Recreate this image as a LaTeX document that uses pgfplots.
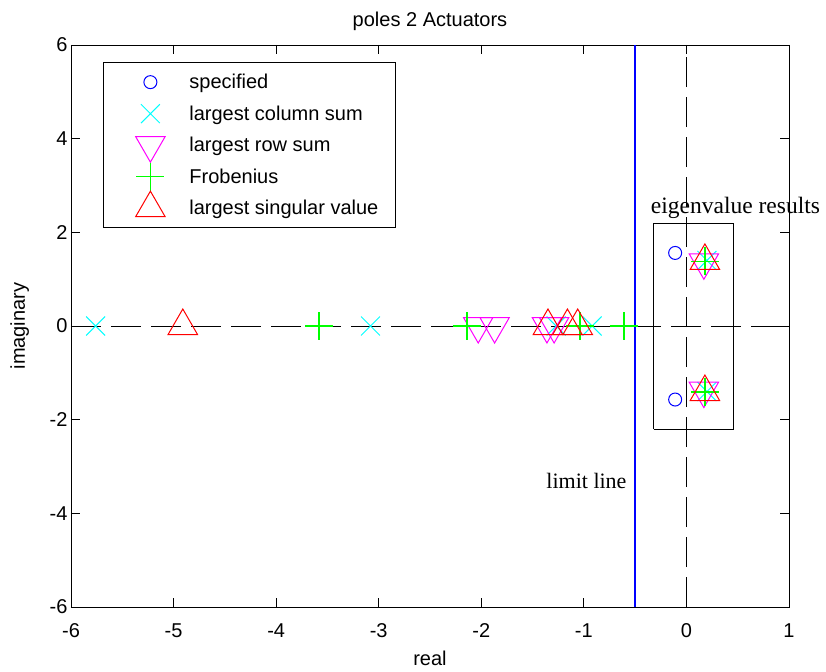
\documentclass[border=0pt]{standalone}
\usepackage{fontspec}
\setmainfont{Liberation Sans}
\newfontfamily\seriffont{Liberation Serif}
\usepackage{pgfplots}
\pgfplotsset{compat=1.18}
\definecolor{mcyan}{rgb}{0,1,1}
\definecolor{mmag}{rgb}{1,0,1}
\definecolor{mgreen}{rgb}{0,1,0}
\definecolor{mred}{rgb}{1,0,0}
\definecolor{mblue}{rgb}{0,0,1}
\newcommand{\ff}{\fontsize{20}{24}\selectfont}
\begin{document}
\begin{tikzpicture}
\begin{axis}[
  width=718pt, height=562pt, scale only axis, clip=false,
  xmin=-6, xmax=1, ymin=-6, ymax=6,
  xtick={-6,-5,...,1}, ytick={-6,-4,...,6},
  /pgf/number format/assume math mode=true,
  tick align=inside, major tick length=9pt,
  every tick/.style={black, line width=0.8pt},
  axis line style={line width=0.8pt},
  tick label style={font=\ff},
  xticklabel style={yshift=-13pt},
  title={poles 2 Actuators},
  title style={font=\ff, at={(axis description cs:0.5,1)}, anchor=base, yshift=12pt},
  xlabel={real},
  xlabel style={font=\ff, at={(axis description cs:0.5,0)}, anchor=base, yshift=-58pt},
  ylabel={imaginary},
  ylabel style={font=\ff, at={(axis description cs:0,0.5)}, anchor=base, yshift=46pt},
  legend style={at={(axis description cs:0,1)}, anchor=north west, xshift=32pt, yshift=-17pt,
    draw=black, line width=0.8pt, inner xsep=17pt, inner ysep=4pt, row sep=0pt, column sep=9pt,
    font=\ff, cells={anchor=west}, nodes={inner sep=0pt}},
  legend image code/.code={\path[draw=none, fill=none] (0pt,-15.75pt) rectangle (60pt,15.75pt);
    \draw[overlay, mark repeat=2, mark phase=2, #1] plot coordinates {(0pt,0pt) (30pt,0pt) (60pt,0pt)};},
]
% reference lines
\addplot[forget plot, draw=black, line width=0.8pt, dash pattern=on 30pt off 10pt] coordinates {(-6,0) (1,0)};
\addplot[forget plot, draw=black, line width=0.8pt, dash pattern=on 30pt off 10pt] coordinates {(0,-6) (0,6)};
\addplot[forget plot, draw=mblue, line width=1.3pt] coordinates {(-0.5,-6) (-0.5,6)};
\addplot[forget plot, draw=black, line width=0.9pt] coordinates {(-0.32,-2.2) (0.46,-2.2) (0.46,2.18) (-0.32,2.18) (-0.32,-2.2)};

\addplot[only marks, mblue, mark=o, mark size=6.5pt, line width=1pt] coordinates {(-0.11,1.56) (-0.11,-1.57)};
\addlegendentry{specified}
\addplot[only marks, mcyan, mark=x, mark size=13.4pt, line width=1pt] coordinates {
  (-5.76,0) (-3.08,0) (-1.27,0) (-0.92,0) (0.2,1.4) (0.2,-1.4)};
\addlegendentry{largest column sum}
\addplot[only marks, mmag, mark=triangle, mark size=17pt, mark options={rotate=180}, line width=1pt] coordinates {
  (-2.03,0) (-1.87,0) (-1.36,0) (-1.29,0) (0.17,1.36) (0.17,-1.38)};
\addlegendentry{largest row sum}
\addplot[only marks, mgreen, mark=+, mark size=14pt, line width=1.5pt] coordinates {
  (-3.58,0) (-2.14,0) (-1.04,0) (-0.61,0) (0.18,1.38) (0.18,-1.41)};
\addlegendentry{Frobenius}
\addplot[only marks, mred, mark=triangle, mark size=17pt, line width=1pt] coordinates {
  (-4.91,0) (-1.35,0) (-1.16,0) (-1.06,0) (0.18,1.39) (0.18,-1.41)};
\addlegendentry{largest singular value}

\node[font=\seriffont\fontsize{23.5}{28}\selectfont, anchor=base west] at (axis cs:-0.38,2.41) {eigenvalue results};
\node[font=\seriffont\fontsize{22}{26}\selectfont, anchor=base east] at (axis cs:-0.55,-3.46) {limit line};
\end{axis}
\pgfresetboundingbox
\path ([shift={(-71pt,-64pt)}]current axis.south west) rectangle ([shift={(37pt,45pt)}]current axis.north east);
\end{tikzpicture}
\end{document}
